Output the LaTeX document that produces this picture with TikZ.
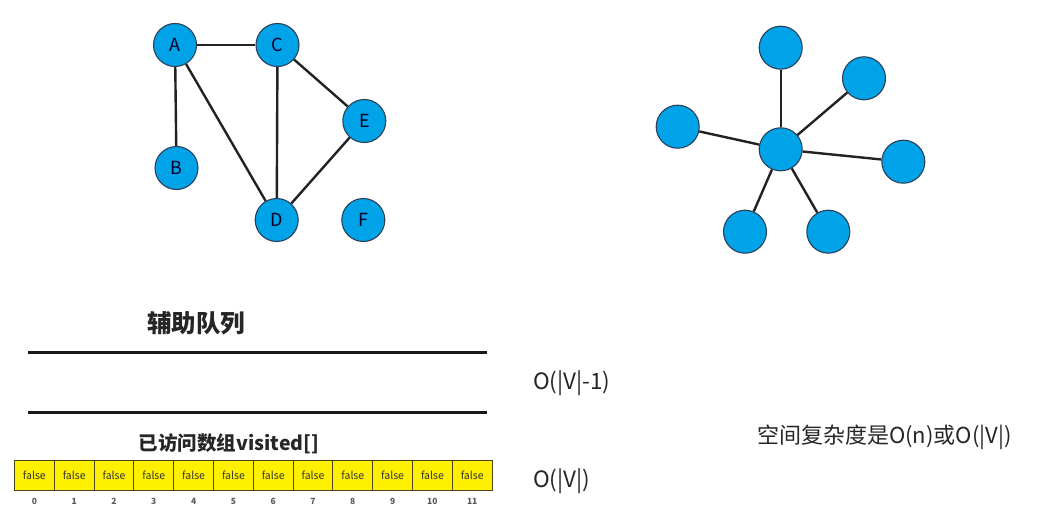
\documentclass[tikz,border=0pt]{standalone}
\usepackage{fontspec}
\setmainfont{Noto Sans CJK SC}
\definecolor{nodeblue}{HTML}{00A2E8}
\definecolor{nodeedge}{HTML}{2A4058}
\definecolor{cellyellow}{HTML}{FFF000}
\definecolor{celledge}{HTML}{4A4218}
\definecolor{ink}{HTML}{222222}
\tikzset{
  vtx/.style={circle, fill=nodeblue, draw=nodeedge, line width=1.1pt, minimum size=43pt, inner sep=0pt,
    font=\fontsize{18}{21}\selectfont, text=black!85!blue},
  edge/.style={draw=ink, line width=2.4pt},
  cell/.style={rectangle, fill=cellyellow, draw=celledge, line width=1.1pt, minimum width=39.8pt, minimum height=29.5pt,
    inner sep=0pt, font=\fontsize{10.5}{12}\selectfont, text=black!80},
  idx/.style={font=\bfseries\fontsize{8.5}{10}\selectfont, text=black!65},
  lbl/.style={inner sep=0pt, text=black!85},
  queueline/.style={draw=black!90, line width=3pt}
}
\begin{document}
\begin{tikzpicture}[x=1pt,y=-1pt]
\useasboundingbox (0,0) rectangle (1056,532);
% left graph
\node[vtx] (A) at (175,45) {A};
\node[vtx] (C) at (277.5,45) {C};
\node[vtx] (E) at (364.3,121) {E};
\node[vtx] (B) at (176.5,168) {B};
\node[vtx] (D) at (276.7,220) {D};
\node[vtx] (F) at (363.3,220) {F};
\draw[edge] (A) -- (C);
\draw[edge] (A) -- (B);
\draw[edge] (A) -- (D);
\draw[edge] (C) -- (D);
\draw[edge] (C) -- (E);
\draw[edge] (E) -- (D);
% right graph
\node[vtx] (S0) at (780.7,149.3) {};
\node[vtx] (S1) at (780.7,47.7) {};
\node[vtx] (S2) at (864,78.3) {};
\node[vtx] (S3) at (677.7,126.7) {};
\node[vtx] (S4) at (903.3,161.7) {};
\node[vtx] (S5) at (745,231.7) {};
\node[vtx] (S6) at (828.3,231.7) {};
\foreach \t in {S1,S2,S3,S4,S5,S6} \draw[edge] (S0) -- (\t);
% queue
\node[lbl, font=\bfseries\fontsize{24.5}{28}\selectfont] (qt) at (196,323.5) {辅助队列};
\coordinate (q1a) at (28,352.5);
\coordinate (q1b) at (487,352.5);
\coordinate (q2a) at (28,412.5);
\coordinate (q2b) at (487,412.5);
\draw[queueline] (q1a) -- (q1b);
\draw[queueline] (q2a) -- (q2b);
\node[lbl, anchor=west, font=\fontsize{22.5}{26}\selectfont] (oq) at (533,383) {O(|V|-1)};
% visited
\node[lbl, font=\bfseries\fontsize{19.5}{23}\selectfont] (vt) at (229,444) {已访问数组visited[]};
\foreach \i in {0,...,11} {
  \node[cell] (c\i) at ({34.4+39.8*\i},475.5) {false};
  \node[idx] (n\i) at ({34.4+39.8*\i},501) {\i};
}
\node[lbl, anchor=west, font=\fontsize{22.5}{26}\selectfont] (ov) at (533,481) {O(|V|)};
\node[lbl, anchor=west, font=\fontsize{22}{25}\selectfont] (sp) at (757,437) {空间复杂度是O(n)或O(|V|)};
\end{tikzpicture}
\end{document}
